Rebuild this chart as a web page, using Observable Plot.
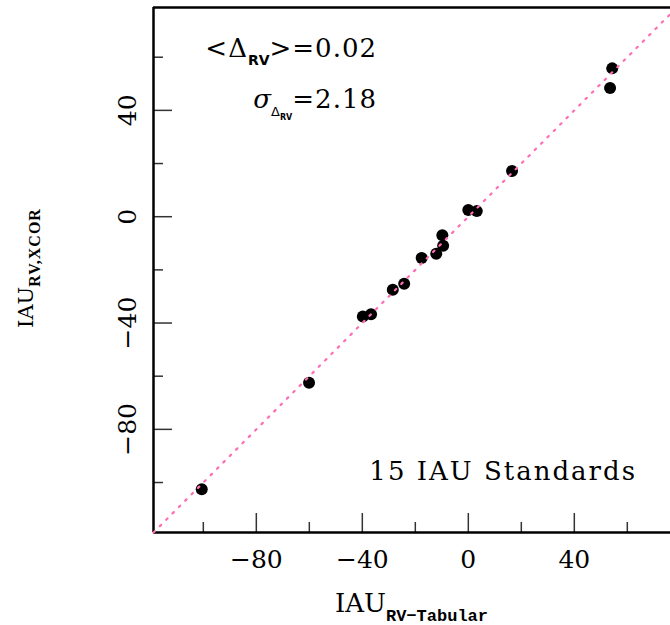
<!DOCTYPE html>
<html>
<head>
<meta charset="utf-8">
<script src="https://cdn.jsdelivr.net/npm/d3@7"></script>
<script src="https://cdn.jsdelivr.net/npm/@observablehq/plot@0.6"></script>
<style>
  html, body { margin: 0; padding: 0; background: #fff; }
  #chart svg { display: block; }
</style>
</head>
<body>
<div id="chart"></div>
<script>
// ---- data ----
const rvTabular = [-100.6, -60.1, -39.8, -36.7, -28.5, -24.2, -17.6, -12.1, -9.5, -9.8, 0.0, 3.2, 16.5, 53.5, 54.3];
const rvXcor    = [-102.5, -62.5, -37.5, -36.7, -27.5, -25.2, -15.5, -13.9, -10.9, -7.0, 2.5, 2.1, 17.2, 48.4, 55.8];
const xDomain = [-118.8, 76.3];
const yDomain = [-118.8, 78.7];
const majorTicks = [-80, -40, 0, 40];
const minorTicks = [-100, -60, -20, 20, 60];
const meanText = "0.02";
const sigmaText = "2.18";
const countText = "15 IAU Standards";

const points = rvTabular.map((x, i) => ({x, y: rvXcor[i]}));
const oneToOne = [xDomain[0], xDomain[1]];

const W = 670, H = 625;
const mL = 153, mT = 7, mR = 0, mB = 93;
const plotW = W - mL - mR, plotH = H - mT - mB;
const tickCol = "#333";

const plot = Plot.plot({
  width: W, height: H,
  marginLeft: mL, marginTop: mT, marginRight: mR, marginBottom: mB,
  style: {fontFamily: "DejaVu Serif", fontSize: "25px", color: "#000", background: "#fff", overflow: "visible"},
  x: {domain: xDomain},
  y: {domain: yDomain},
  marks: [
    Plot.axisX({ticks: majorTicks, tickSize: 0, tickPadding: 18, fontSize: 25, label: null}),
    Plot.axisY({ticks: majorTicks, tickSize: 0, tickPadding: 26, rotate: -90, textAnchor: "middle", fontSize: 25, label: null}),
    // inward ticks
    Plot.tickX(majorTicks, {x: d => d, insetTop: plotH - 19, stroke: tickCol, strokeWidth: 1.5}),
    Plot.tickX(minorTicks, {x: d => d, insetTop: plotH - 10, stroke: tickCol, strokeWidth: 1.5}),
    Plot.tickY(majorTicks, {y: d => d, insetRight: plotW - 19, stroke: tickCol, strokeWidth: 1.5}),
    Plot.tickY(minorTicks, {y: d => d, insetRight: plotW - 10, stroke: tickCol, strokeWidth: 1.5}),
    // frame (top, left, bottom)
    Plot.ruleY([yDomain[1]], {stroke: "#000", strokeWidth: 2.5}),
    Plot.ruleY([yDomain[0]], {stroke: "#000", strokeWidth: 2.5}),
    Plot.ruleX([xDomain[0]], {stroke: "#000", strokeWidth: 2.5}),
    // points
    Plot.dot(points, {x: "x", y: "y", r: 6, fill: "#000", stroke: "none"}),
    // 1:1 dotted line
    Plot.line(oneToOne, {x: d => d, y: d => d, stroke: "#ff6eb4", strokeWidth: 2.2, strokeDasharray: "1.8 7.2"})
  ]
});

document.getElementById("chart").appendChild(plot);

const svg = d3.select(plot);

// x-axis title
const xt = svg.append("text").attr("x", 335).attr("y", 612).attr("text-anchor", "start").attr("fill", "#000");
xt.append("tspan").attr("font-family", "DejaVu Serif").attr("font-size", 26).text("IAU");
xt.append("tspan").attr("font-family", "Liberation Mono").attr("font-weight", "bold").attr("font-size", 17).attr("dy", 9).text("RV\u2212Tabular");

// y-axis title (rotated)
const yt = svg.append("text").attr("transform", "translate(33,268) rotate(-90)").attr("text-anchor", "middle").attr("fill", "#000");
yt.append("tspan").attr("font-family", "DejaVu Serif").attr("font-size", 21).text("IAU");
yt.append("tspan").attr("font-family", "Liberation Serif").attr("font-weight", "bold").attr("font-size", 16).attr("letter-spacing", 1).attr("dy", 7).text("RV,XCOR");

// annotation 1: <Δ_RV>=0.02
const a1 = svg.append("text").attr("x", 377).attr("y", 57).attr("text-anchor", "end").attr("fill", "#000")
  .attr("font-family", "DejaVu Serif").attr("font-size", 26);
a1.append("tspan").attr("letter-spacing", 1).text("<\u0394");
a1.append("tspan").attr("font-family", "DejaVu Sans").attr("font-weight", "bold").attr("font-size", 14).attr("dy", 8).text("RV");
a1.append("tspan").attr("dy", -8).attr("letter-spacing", 1).text(">=" + meanText);

// annotation 2: σ_{Δ_RV}=2.18
const a2 = svg.append("text").attr("x", 377).attr("y", 108).attr("text-anchor", "end").attr("fill", "#000")
  .attr("font-family", "DejaVu Serif").attr("font-size", 26);
a2.append("tspan").attr("font-style", "italic").text("\u03c3");
a2.append("tspan").attr("font-family", "DejaVu Sans").attr("font-size", 13).attr("dy", 8).text("\u0394");
a2.append("tspan").attr("font-family", "DejaVu Sans").attr("font-weight", "bold").attr("font-size", 8).attr("dy", 4).text("RV");
a2.append("tspan").attr("dy", -12).attr("letter-spacing", 1).text("=" + sigmaText);

// count label
svg.append("text").attr("x", 637).attr("y", 480).attr("text-anchor", "end").attr("fill", "#000")
  .attr("font-family", "DejaVu Serif").attr("font-size", 26).attr("letter-spacing", 2).text(countText);
</script>
</body>
</html>
